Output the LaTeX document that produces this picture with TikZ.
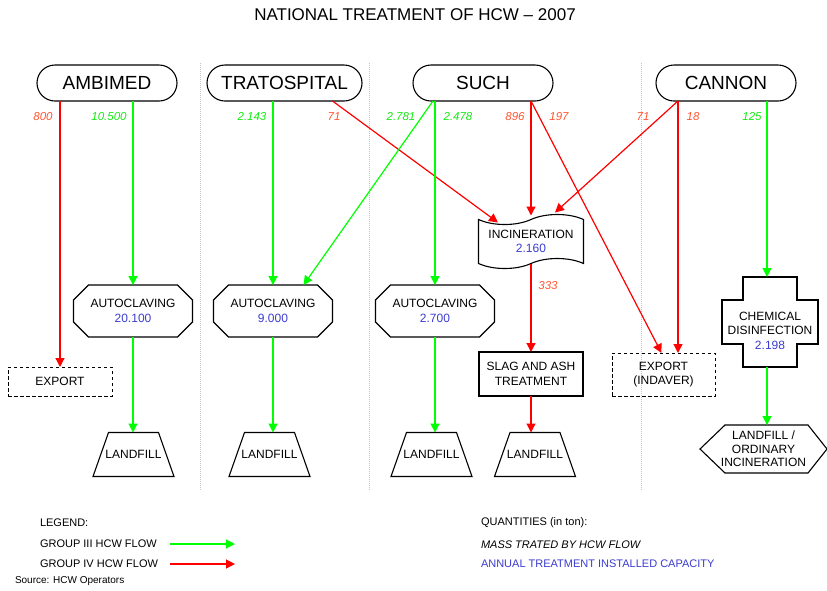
\documentclass[tikz,border=0pt]{standalone}
\usepackage{fontspec}
\setmainfont{Liberation Sans}
\usetikzlibrary{shapes.misc,shapes.symbols,arrows.meta,calc}
\definecolor{lgreen}{RGB}{0,255,0}
\definecolor{tgreen}{RGB}{20,235,20}
\definecolor{lred}{RGB}{255,0,0}
\definecolor{tred}{RGB}{255,85,50}
\definecolor{qblue}{RGB}{60,60,210}
\definecolor{sepgray}{RGB}{195,195,195}
\newcommand\octoutline[1]{\draw[outline] ($(#1.north west)+(15,0)$) -- ($(#1.north east)+(-15,0)$) -- ($(#1.north east)+(0,15)$) -- ($(#1.south east)+(0,-15)$) -- ($(#1.south east)+(-15,0)$) -- ($(#1.south west)+(15,0)$) -- ($(#1.south west)+(0,-15)$) -- ($(#1.north west)+(0,15)$) -- cycle;}
\newcommand\trapoutline[1]{\draw[outline] (#1.south west) -- ($(#1.north west)+(15.5,0)$) -- ($(#1.north east)+(-15.5,0)$) -- (#1.south east) -- cycle;}
\begin{document}
\begin{tikzpicture}[x=1pt,y=-1pt,
  every node/.style={inner sep=0pt, outer sep=0pt},
  outline/.style={draw=black, line width=1.1pt, line join=miter},
  src/.style={draw, line width=1.1pt, rounded rectangle, minimum width=140pt, minimum height=36pt, font=\fontsize{19}{22}\selectfont},
  box/.style={align=center, font=\fontsize{12}{14.5}\selectfont},
  solidbox/.style={box, draw, line width=1.1pt},
  dashbox/.style={box, draw, line width=1pt, dash pattern=on 3.5pt off 2.5pt},
  gflow/.style={draw=lgreen, line width=1.2pt, -{Triangle[length=9pt,width=9pt]}},
  rflow/.style={draw=lred, line width=1.2pt, -{Triangle[length=9pt,width=9pt]}},
  glabel/.style={font=\fontsize{11.5}{13}\selectfont\itshape, text=tgreen},
  rlabel/.style={font=\fontsize{11.5}{13}\selectfont\itshape, text=tred},
  sep/.style={draw=sepgray, line width=0.7pt, dash pattern=on 1pt off 1pt},
  legend/.style={anchor=west, font=\fontsize{11}{13}\selectfont},
]
\useasboundingbox[fill=white] (0,0) rectangle (827,590);

% title
\node[font=\fontsize{17}{20}\selectfont] (title) at (415,15) {NATIONAL TREATMENT OF HCW -- 2007};

% separators
\coordinate (s1a) at (200,63); \coordinate (s1b) at (200,490);
\coordinate (s2a) at (369,63); \coordinate (s2b) at (369,490);
\coordinate (s3a) at (641.5,63); \coordinate (s3b) at (641.5,490);
\draw[sep] (s1a) -- (s1b);
\draw[sep] (s2a) -- (s2b);
\draw[sep] (s3a) -- (s3b);

% sources
\node[src] (amb) at (107,83) {AMBIMED};
\node[src, minimum width=155pt] (trat) at (284.5,83) {TRATOSPITAL};
\node[src] (such) at (483,83) {SUCH};
\node[src] (can) at (726,83) {CANNON};

% autoclaving
\node[box, minimum width=119pt, minimum height=52pt] (a1) at (133,311) {AUTOCLAVING\\\textcolor{qblue}{20.100}};
\node[box, minimum width=119pt, minimum height=52pt] (a2) at (273,311) {AUTOCLAVING\\\textcolor{qblue}{9.000}};
\node[box, minimum width=119pt, minimum height=52pt] (a3) at (435,311) {AUTOCLAVING\\\textcolor{qblue}{2.700}};
\octoutline{a1}\octoutline{a2}\octoutline{a3}

% landfills
\node[box, minimum width=81pt, minimum height=44pt] (l1) at (133.5,454.5) {LANDFILL};
\node[box, minimum width=81pt, minimum height=44pt] (l2) at (269.5,454.5) {LANDFILL};
\node[box, minimum width=81pt, minimum height=44pt] (l3) at (431.5,454.5) {LANDFILL};
\node[box, minimum width=81pt, minimum height=44pt] (l4) at (535,454.5) {LANDFILL};
\trapoutline{l1}\trapoutline{l2}\trapoutline{l3}\trapoutline{l4}

% incineration
\node[box, tape, draw, line width=1.1pt, minimum width=105pt, minimum height=54pt, tape bend height=10pt] (inc) at (531,241.5) {INCINERATION\\\textcolor{qblue}{2.160}};

% slag
\node[solidbox, minimum width=104pt, minimum height=44pt] (slag) at (531,374) {SLAG AND ASH\\TREATMENT};

% exports
\node[dashbox, minimum width=104pt, minimum height=29pt] (exp1) at (60,381.5) {EXPORT};
\node[dashbox, minimum width=103pt, minimum height=43pt] (exp2) at (663.5,374.5) {EXPORT\\(INDAVER)};

% chemical disinfection (cross)
\node[minimum width=96pt, minimum height=90pt] (chem) at (770,322) {};
\draw[outline] ($(chem.north west)+(21,0)$) -- ($(chem.north east)+(-21,0)$) -- ($(chem.north east)+(-21,23)$) -- ($(chem.north east)+(0,23)$) -- ($(chem.south east)+(0,-23)$) -- ($(chem.south east)+(-21,-23)$) -- ($(chem.south east)+(-21,0)$) -- ($(chem.south west)+(21,0)$) -- ($(chem.south west)+(21,-23)$) -- ($(chem.south west)+(0,-23)$) -- ($(chem.north west)+(0,23)$) -- ($(chem.north west)+(21,23)$) -- cycle;
\node[box] (chemt) at ($(chem.center)+(0,8.5)$) {CHEMICAL\\DISINFECTION\\\textcolor{qblue}{2.198}};

% landfill / ordinary incineration (hexagon)
\node[box, font=\fontsize{12}{13.5}\selectfont, minimum width=127pt, minimum height=48pt] (hex) at (763.5,449) {LANDFILL /\\ORDINARY\\INCINERATION};
\draw[outline] (hex.west) -- ($(hex.north west)+(25,0)$) -- ($(hex.north east)+(-19,0)$) -- (hex.east) -- ($(hex.south east)+(-19,0)$) -- ($(hex.south west)+(25,0)$) -- cycle;

% flows
\draw[rflow] (exp1.north |- amb.south) -- (exp1.north);
\draw[gflow] (a1.north |- amb.south) -- (a1.north);
\draw[gflow] (a1.south) -- (a1.south |- l1.north);

\draw[gflow] (a2.north |- trat.south) -- (a2.north);
\draw[gflow] (a2.south) -- (a2.south |- l2.north);
\draw[rflow] ($(trat.south)+(48,0)$) -- ($(inc.center)+(-33,-19)$);

\draw[gflow] ($(such.south)+(-50,0)$) -- ($(a2.north east)+(-29,0)$);
\draw[gflow] (a3.north |- such.south) -- (a3.north);
\draw[gflow] (a3.south) -- (a3.south |- l3.north);
\draw[rflow] ($(such.south)+(48,0)$) -- ($(inc.center)+(0,-26)$);
\draw[rflow] ($(such.south)+(48,0)$) -- ($(exp2.north)+(-2,0)$);

\draw[rflow] (inc.south) -- (slag.north);
\draw[rflow] (slag.south) -- (slag.south |- l4.north);

\draw[rflow] ($(can.south)+(-48,0)$) -- ($(inc.center)+(24,-29)$);
\draw[rflow] ($(can.south)+(-48,0)$) -- ($(exp2.north)+(14.5,0)$);
\draw[gflow] ($(can.south)+(41,0)$) -- ($(chem.north)+(-3,0)$);
\draw[gflow] ($(chem.south)+(-3,0)$) -- ($(hex.north)+(3.5,0)$);

% flow labels
\node[rlabel] (q1) at (43,117) {800};
\node[glabel] (q2) at (109,117) {10.500};
\node[glabel] (q3) at (252,117) {2.143};
\node[rlabel] (q4) at (334,117) {71};
\node[glabel] (q5) at (401,117) {2.781};
\node[glabel] (q6) at (458,117) {2.478};
\node[rlabel] (q7) at (515,117) {896};
\node[rlabel] (q8) at (559,117) {197};
\node[rlabel] (q9) at (643,117) {71};
\node[rlabel] (q10) at (693,117) {18};
\node[glabel] (q11) at (752,117) {125};
\node[rlabel] (q12) at (548,286) {333};

% legend
\node[legend] (lg) at (40,523) {LEGEND:};
\node[legend] (lg3) at (40,544) {GROUP III HCW FLOW};
\node[legend] (lg4) at (40,564) {GROUP IV HCW FLOW};
\node[legend, font=\fontsize{10}{12}\selectfont] (srcnote) at (15,581) {Source: HCW Operators};
\coordinate (lga) at (170,544); \coordinate (lgb) at (235,544);
\coordinate (lgc) at (170,564); \coordinate (lgd) at (235,564);
\draw[gflow] (lga) -- (lgb);
\draw[rflow] (lgc) -- (lgd);
\node[legend] (qt) at (481,523) {QUANTITIES (in ton):};
\node[legend, font=\fontsize{11}{13}\selectfont\itshape] (qm) at (481,545) {MASS TRATED BY HCW FLOW};
\node[legend, text=qblue] (qa) at (481,564) {ANNUAL TREATMENT INSTALLED CAPACITY};
\end{tikzpicture}
\end{document}
